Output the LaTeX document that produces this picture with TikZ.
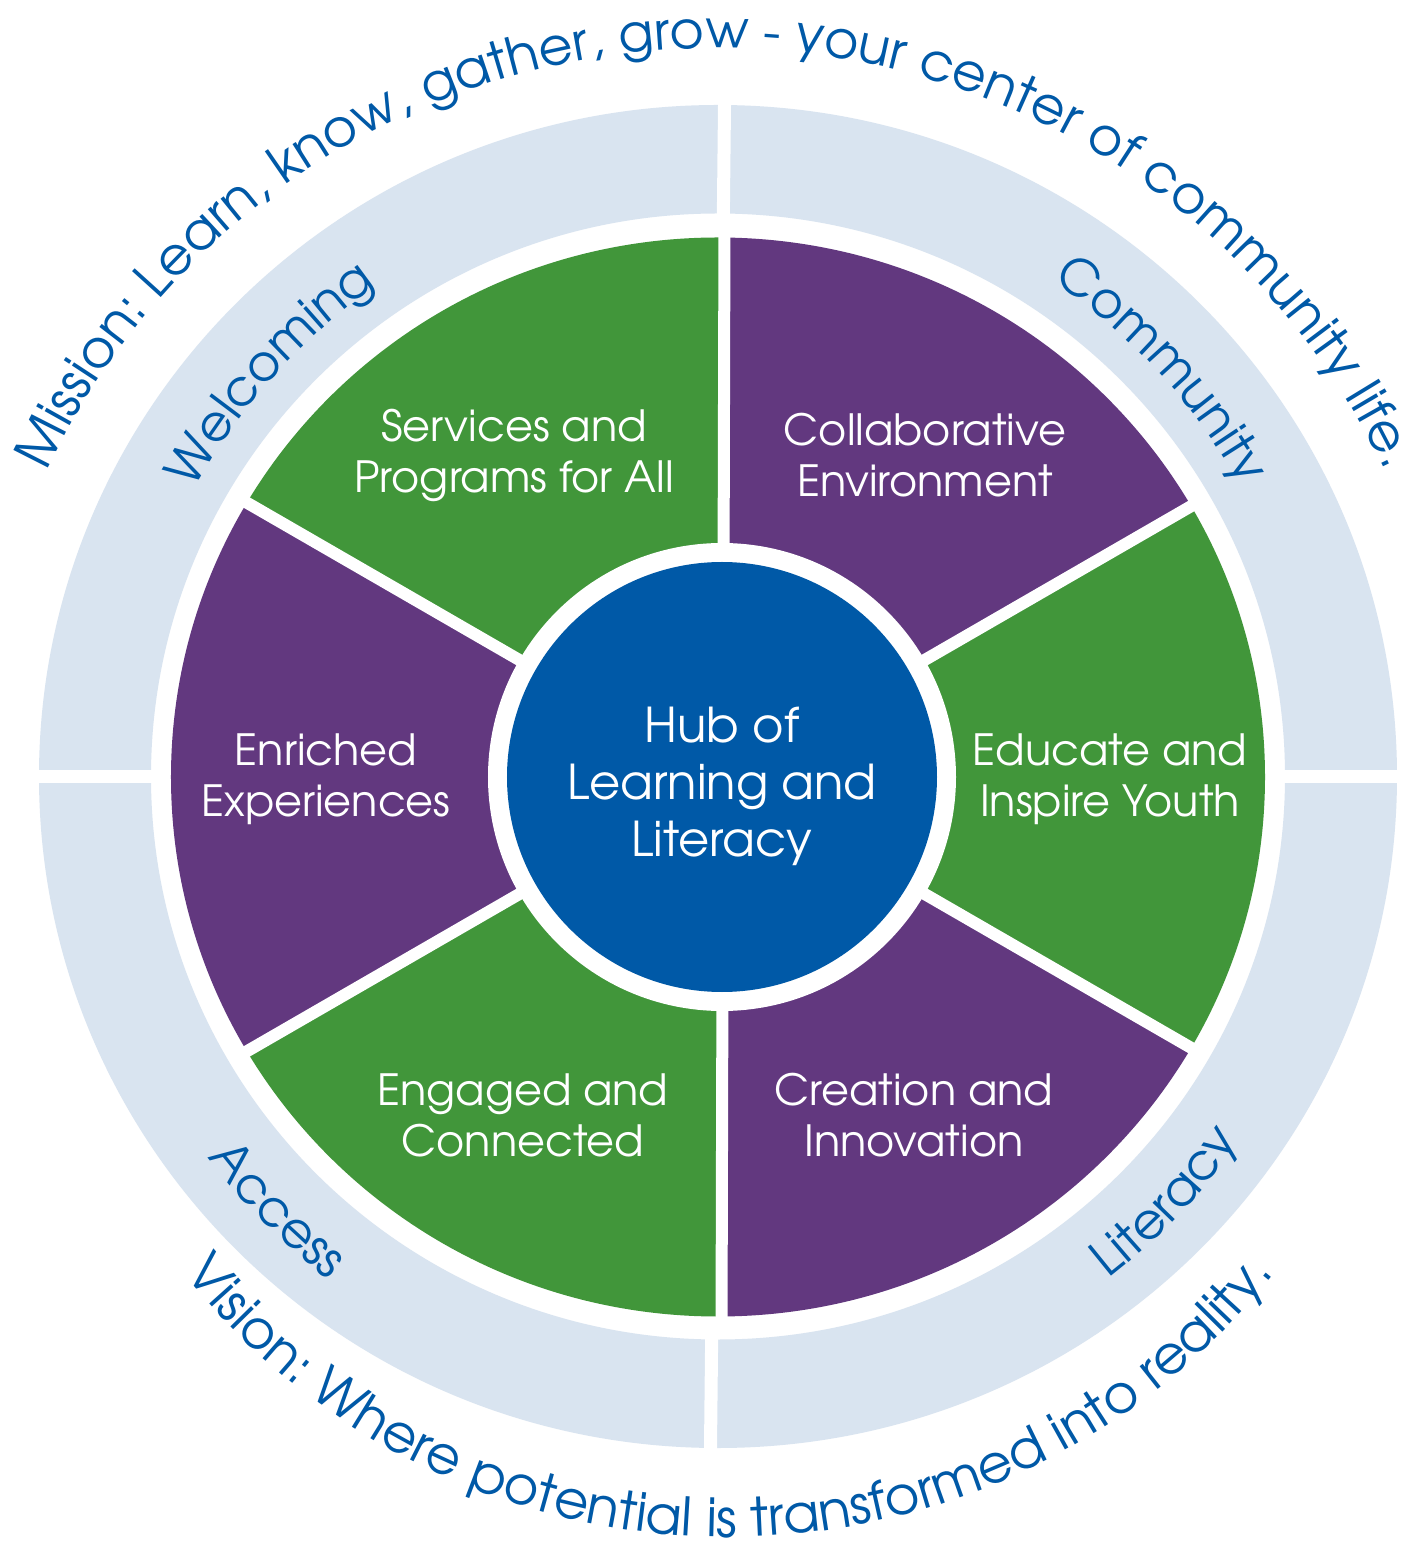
\documentclass[tikz,border=0pt]{standalone}
\usepackage{fontspec}
\setmainfont{texgyreadventor-regular.otf}
\usetikzlibrary{decorations.text}
\definecolor{wgreen}{HTML}{41963A}
\definecolor{wpurple}{HTML}{62387F}
\definecolor{hubblue}{HTML}{0059A7}
\definecolor{ringblue}{HTML}{D9E4F0}
\definecolor{tblue}{HTML}{0059A7}
\newcommand\missionfont{\fontsize{52.3}{56}\selectfont}
\newcommand\visionfont{\fontsize{53}{57}\selectfont}
\newcommand\ringfont{\fontsize{50}{54}\selectfont}
\tikzset{
  wedgetext/.style={text=white, align=center, inner sep=0pt, font=\fontsize{43}{51}\selectfont},
  hubtext/.style={text=white, align=center, inner sep=0pt, font=\fontsize{48}{57}\selectfont},
  gapline/.style={draw=white, line width=13},
  sepline/.style={draw=white, line width=12},
  arctext/.style={decorate, decoration={text along path, text align=center, text color=tblue, text={#1}}},
}
\begin{document}
\begin{tikzpicture}[x=1pt, y=1pt]
\useasboundingbox (-722,-769) rectangle (700,777);
\fill[white] (-722,-769) rectangle (700,777);

% outer light ring
\fill[ringblue, even odd rule] (-4,0.5) ellipse[x radius=679, y radius=671.5]
                               (-4,0.5) ellipse[x radius=567, y radius=563];
\coordinate (rl) at (-710,0.5);
\coordinate (rr) at (710,0.5);
\coordinate (rt) at (2.8,700);
\coordinate (rb) at (-11.8,-700);
\path[gapline] (rl) -- (rr);
\path[gapline] (rb) -- (rt);

% wedges
\foreach \a/\b/\c in {90/150/wgreen, 30/90/wpurple, -30/30/wgreen, -90/-30/wpurple, 210/270/wgreen, 150/210/wpurple} {
  \begin{scope}
    \clip (0,0) -- (\a:1000) -- (\b:1000) -- cycle;
    \fill[\c] (-4,0) ellipse[x radius=547, y radius=539.5];
  \end{scope}
}
\coordinate (c0) at (0,0);
\coordinate (vt) at (2.5,560);
\coordinate (vb) at (-0.5,-560);
\path[sepline] (vb) -- (vt);
\foreach \a in {30,-30,210,150} {
  \path[sepline] (c0) -- (\a:560);
}
\fill[white] (0,0) circle[radius=234];
\fill[hubblue] (0,0) circle[radius=215];

% texts
\node[hubtext] (hub) at (0,-9) {Hub of\\Learning and\\Literacy};
\node[wedgetext] (svc) at (-208,322) {Services and\\Programs for All};
\node[wedgetext] (col) at (203,322) {Collaborative\\Environment};
\node[wedgetext] (enr) at (-396,-2) {Enriched\\Experiences};
\node[wedgetext] (edu) at (388,-2) {Educate and\\Inspire Youth};
\node[wedgetext] (eng) at (-199,-338) {Engaged and\\Connected};
\node[wedgetext] (cre) at (192,-338) {Creation and\\Innovation};

% ring labels
\begin{scope}[shift={(-4,0)}]
\path[arctext={|\ringfont|Welcoming}]
  (168:598) arc[start angle=168, end angle=108, radius=598];
\path[arctext={|\ringfont|Community}]
  (72.5:598) arc[start angle=72.5, end angle=12.5, radius=598];
\path[arctext={|\ringfont|Access}]
  (194.5:636) arc[start angle=194.5, end angle=254.5, radius=636];
\path[arctext={|\ringfont|Literacy}]
  (286.5:636) arc[start angle=286.5, end angle=346.5, radius=636];
\end{scope}
% mission
\begin{scope}[shift={(-6,0)}]
\path[arctext={|\missionfont|Mission: Learn, know, gather, grow - your center of community life.}]
  (178:737 and 729) arc[start angle=178, end angle=2, x radius=737, y radius=729];
\end{scope}
% vision
\begin{scope}[shift={(7,-64)}]
\path[arctext={|\visionfont|Vision: Where potential is transformed into reality.}]
  (185:696) arc[start angle=185, end angle=355, radius=696];
\end{scope}
\end{tikzpicture}
\end{document}
